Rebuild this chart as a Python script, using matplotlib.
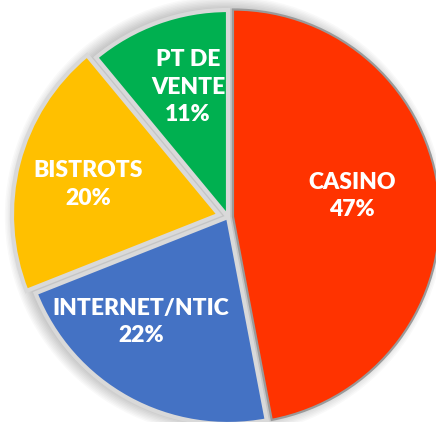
import matplotlib
matplotlib.use("Agg")
import matplotlib.pyplot as plt
from matplotlib.patches import Circle

labels = ["CASINO", "INTERNET/NTIC", "BISTROTS", "PT DE\nVENTE"]
values = [47, 22, 20, 11]
colors = ["#FF3300", "#4472C4", "#FFC000", "#00B050"]
explode = [0.024, 0, 0.045, 0]
label_pos = [(0.599, 0.101), (-0.420, -0.507), (-0.676, 0.157), (-0.193, 0.628)]

fig = plt.figure(figsize=(4.36, 4.22), dpi=100)
ax = fig.add_axes([0, 0, 1, 1])
ax.set_aspect("equal")
ax.axis("off")

# soft shadow
for i in range(10):
    ax.add_patch(Circle((-0.015, 0.005), 1.0 + 0.007 * i, color="#000000",
                        alpha=0.022, lw=0, zorder=0))

wedges, _ = ax.pie(values, colors=colors, startangle=90, counterclock=False,
                   explode=explode, radius=1.0,
                   wedgeprops=dict(edgecolor="#D9D9D9", linewidth=3))
wedges[0].set_edgecolor("#9A9A9A")
wedges[0].set_linewidth(1.6)

for lab, v, (x, y) in zip(labels, values, label_pos):
    ax.text(x, y, f"{lab}\n{v}%", ha="center", va="center", color="white",
            fontsize=16.5, fontweight="heavy", family="Lato", linespacing=1.38)

ax.set_xlim(-228 / 207, (436 - 228) / 207)
ax.set_ylim(-(422 - 217) / 207, 217 / 207)
fig.savefig("out.png", dpi=100, facecolor="white")
